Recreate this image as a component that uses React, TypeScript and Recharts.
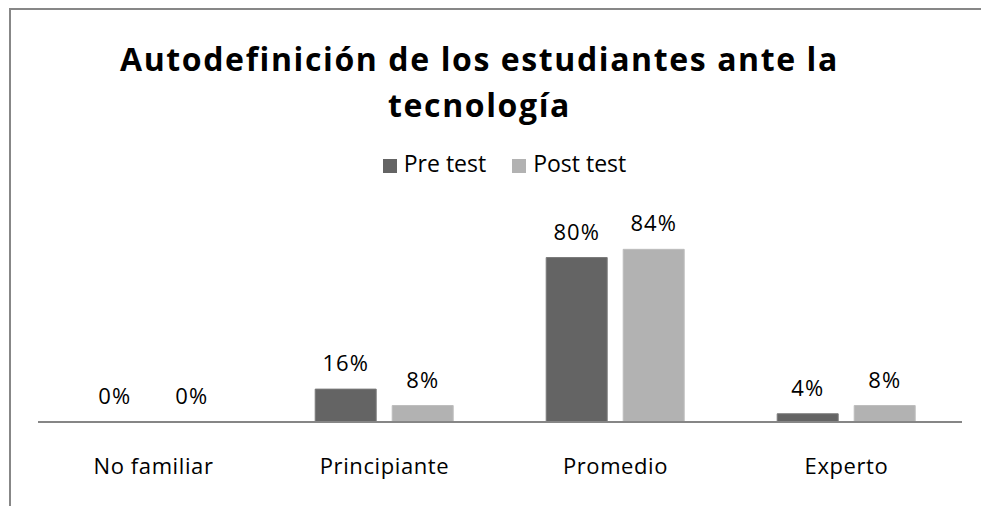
import React from 'react';
import { BarChart, Bar, XAxis, YAxis, Legend, LabelList } from 'recharts';

const categories = ['No familiar', 'Principiante', 'Promedio', 'Experto'];
const preTest = [0, 0.16, 0.8, 0.04];
const postTest = [0, 0.08, 0.84, 0.08];
const seriesOrder = ['Pre test', 'Post test'];

const data = categories.map((name, i) => ({
  name,
  pre: preTest[i],
  post: postTest[i],
}));

const FONT = '"Open Sans", sans-serif';

const pct = (v: any) => `${Math.round(Number(v) * 100)}%`;

function CategoryTick({ x, y, payload }: any) {
  return (
    <text x={x} y={y + 44} textAnchor="middle" fontSize={22} letterSpacing={0.6} fill="#000" fontFamily={FONT}>
      {payload.value}
    </text>
  );
}

export default function App() {
  return (
    <div style={{ position: 'absolute', left: 0, top: 0, width: 981, height: 506, overflow: 'hidden', background: '#fff' }}>
      {/* chart frame, clipped on the right and bottom like the source */}
      <div
        style={{
          position: 'absolute',
          left: 9,
          top: 8,
          width: 1000,
          height: 520,
          border: '2px solid #878787',
        }}
      />
      <div
        style={{
          position: 'absolute',
          left: -11,
          top: 36,
          width: 981,
          textAlign: 'center',
          fontFamily: FONT,
          fontWeight: 700,
          fontSize: 32,
          letterSpacing: 1.6,
          lineHeight: '46px',
          color: '#000',
        }}
      >
        Autodefinición de los estudiantes ante la
        <br />
        tecnología
      </div>
      <BarChart
        width={981}
        height={506}
        data={data}
        margin={{ top: 207, right: 19, left: 38, bottom: 0 }}
        barCategoryGap="20%"
        barGap={16}
        style={{ position: 'absolute', left: 0, top: 0 }}
      >
        <XAxis
          dataKey="name"
          height={84}
          tickLine={false}
          axisLine={{ stroke: '#868686', strokeWidth: 2 }}
          tick={<CategoryTick />}
          interval={0}
        />
        <YAxis hide domain={[0, 0.9]} />
        <Legend
          verticalAlign="top"
          align="center"
          iconType="square"
          iconSize={14}
          itemSorter={(item: any) => seriesOrder.indexOf(item.value)}
          wrapperStyle={{
            position: 'absolute',
            top: 148,
            left: 27,
            width: 981,
            height: 30,
            lineHeight: '30px',
            fontFamily: FONT,
            fontSize: 23,
          }}
          formatter={(value: any) => (
            <span style={{ color: '#000', marginLeft: 3, marginRight: 16 }}>{value}</span>
          )}
        />
        <Bar dataKey="pre" name="Pre test" fill="#646464" stroke="#7a7a7a" strokeWidth={1} minPointSize={0.01} isAnimationActive={false}>
          <LabelList dataKey="pre" position="top" offset={18} formatter={pct} fontSize={22} letterSpacing={1} fill="#000" fontFamily={FONT} />
        </Bar>
        <Bar dataKey="post" name="Post test" fill="#b2b2b2" stroke="#bdbdbd" strokeWidth={1} minPointSize={0.01} isAnimationActive={false}>
          <LabelList dataKey="post" position="top" offset={18} formatter={pct} fontSize={22} letterSpacing={1} fill="#000" fontFamily={FONT} />
        </Bar>
      </BarChart>
    </div>
  );
}
